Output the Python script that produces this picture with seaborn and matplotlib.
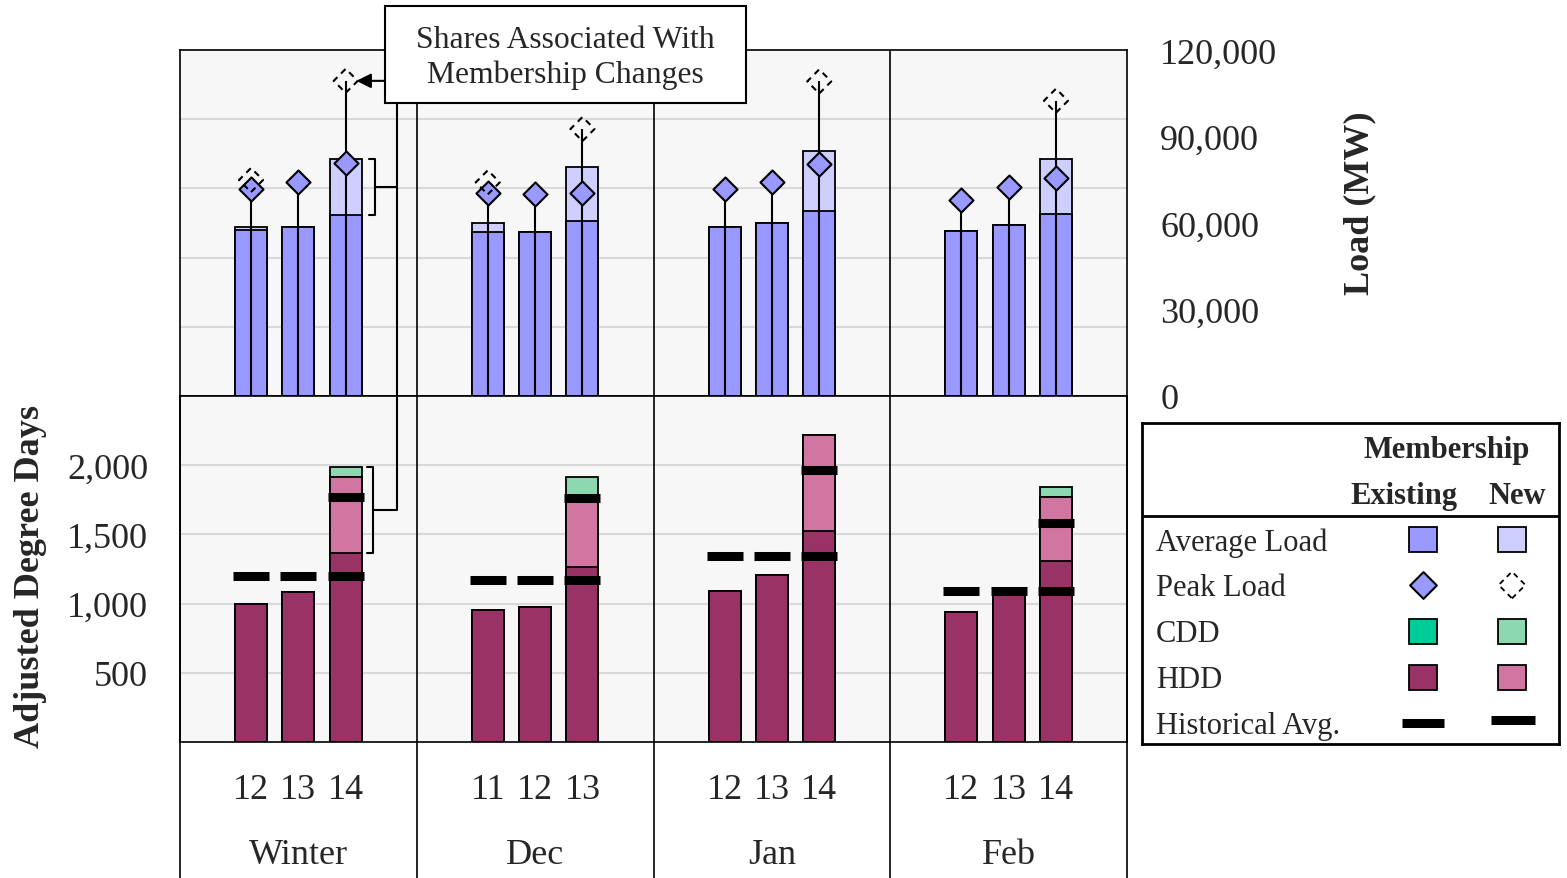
import numpy as np
import pandas as pd
import matplotlib
matplotlib.use("Agg")
import matplotlib.pyplot as plt
import seaborn as sns
from matplotlib.patches import Rectangle
from matplotlib.transforms import blended_transform_factory

nan = np.nan
# ---------------- data ----------------
groups = ["Winter", "Dec", "Jan", "Feb"]
years = [["12", "13", "14"], ["11", "12", "13"], ["12", "13", "14"], ["12", "13", "14"]]

avg_load_existing = [57600, 58700, 62800, 57000, 56800, 60600, 58500, 60000, 64200, 57200, 59400, 63200]
avg_load_new = [1100, 0, 19400, 3100, 0, 18700, 0, 0, 20700, 0, 0, 19100]
peak_existing = [71800, 74300, 80700, 70400, 70000, 70300, 71800, 74300, 80500, 68000, 72400, 75500]
peak_new = [74900, nan, 109300, 74100, nan, 92600, nan, nan, 109100, nan, nan, 102400]

hdd_existing = [995, 1085, 1365, 955, 972, 1261, 1092, 1206, 1523, 936, 1070, 1305]
hdd_new = [0, 0, 550, 0, 0, 489, 0, 0, 693, 0, 0, 466]
cdd_existing = [0, 0, 0, 0, 0, 0, 0, 0, 0, 0, 0, 0]
cdd_new = [0, 0, 75, 0, 0, 165, 0, 0, 0, 0, 0, 75]
hist_existing = [1200, 1200, 1200, 1170, 1170, 1170, 1345, 1345, 1345, 1088, 1088, 1088]
hist_new = [nan, nan, 1770, nan, nan, 1760, nan, nan, 1966, nan, nan, 1583]

load_ticks = [0, 30000, 60000, 90000, 120000]
dd_ticks = [500, 1000, 1500, 2000]

# ---------------- colours ----------------
C_AVG_E, C_AVG_N = "#9999FF", "#CFCFFF"
C_HDD_E, C_HDD_N = "#993366", "#D076A0"
C_CDD_E, C_CDD_N = "#00CC99", "#8CD9B0"
PANEL_BG = "#F7F7F7"
GRID = "#D9D9D9"

sns.set_theme(style="white", rc={"axes.facecolor": PANEL_BG, "axes.edgecolor": "black",
                                 "axes.linewidth": 1.2})
plt.rcParams["font.family"] = ["Liberation Serif", "DejaVu Serif"]

slots = ["s0", "s1", "s2"]
rows = []
for gi, g in enumerate(groups):
    for si in range(3):
        k = gi * 3 + si
        rows.append(dict(group=g, slot=slots[si], year=years[gi][si], xpos=gi + (si - 1) * 0.2,
                         avg_e=avg_load_existing[k], avg_n=avg_load_new[k],
                         pk_e=peak_existing[k], pk_n=peak_new[k],
                         hdd_e=hdd_existing[k], hdd_n=hdd_new[k],
                         cdd_e=cdd_existing[k], cdd_n=cdd_new[k],
                         hist_e=hist_existing[k], hist_n=hist_new[k]))
df = pd.DataFrame(rows)
df["load_tot"] = df.avg_e + df.avg_n
df["dd1"] = df.hdd_e
df["dd2"] = df.dd1 + df.hdd_n
df["dd3"] = df.dd2 + df.cdd_e
df["dd4"] = df.dd3 + df.cdd_n

W, H = 1567, 879
fig = plt.figure(figsize=(W / 100, H / 100), dpi=100)
fig.patch.set_facecolor("white")


def fax(l, t, r, b):
    return [l / W, 1 - b / H, (r - l) / W, (b - t) / H]


ax_top = fig.add_axes(fax(180, 51, 1127, 397))
ax_bot = fig.add_axes(fax(180, 397, 1127, 743))


def bars(ax, col, color):
    sns.barplot(data=df, x="group", y=col, hue="slot", order=groups, hue_order=slots,
                palette={s: color for s in slots}, width=0.6, gap=0.325, dodge=True,
                errorbar=None, legend=False, edgecolor="black", linewidth=1.3,
                saturation=1, ax=ax, zorder=2)


# ---- top panel: load ----
bars(ax_top, "load_tot", C_AVG_N)
bars(ax_top, "avg_e", C_AVG_E)
ax_top.vlines(df.xpos, 0, np.fmax(df.pk_e, df.pk_n), color="black", lw=1.5, zorder=4)
sns.scatterplot(x=df.xpos, y=df.pk_e, marker="D", s=150, color=C_AVG_E, edgecolor="black",
                linewidth=1.5, ax=ax_top, zorder=6, legend=False)
m = df.pk_n.notna()
ax_top.scatter(df.xpos[m], df.pk_n[m], marker="D", s=150, facecolors="none",
               edgecolors="black", linewidths=1.5, linestyles=(0, (3, 2.5)), zorder=6)

for v in range(24000, 120000, 24000):
    ax_top.axhline(v, color=GRID, lw=1.5, zorder=0.5)
ax_top.set_ylim(0, 120000)
ax_top.set_xlim(-0.5, 3.5)
ax_top.set_xticks([])
ax_top.set_xlabel("")
ax_top.yaxis.tick_right()
ax_top.set_yticks(load_ticks)
ax_top.set_yticklabels([f"{v:,}" for v in load_ticks])
ax_top.tick_params(axis="y", length=0, pad=24, labelsize=26)
ax_top.set_ylabel("Load (MW)", fontsize=26, fontweight="bold")
ax_top.yaxis.set_label_position("right")
ax_top.yaxis.set_label_coords(1.246, 0.559)
ax_top.yaxis.label.set_va("center")
ax_top.yaxis.label.set_ha("center")

# ---- bottom panel: degree days ----
bars(ax_bot, "dd4", C_CDD_N)
bars(ax_bot, "dd3", C_CDD_E)
bars(ax_bot, "dd2", C_HDD_N)
bars(ax_bot, "dd1", C_HDD_E)
ax_bot.hlines(df.hist_e, df.xpos - 0.076, df.xpos + 0.076, color="black", lw=6.5,
              capstyle="butt", zorder=5)
mh = df.hist_n.notna()
ax_bot.hlines(df.hist_n[mh], df.xpos[mh] - 0.076, df.xpos[mh] + 0.076, color="black",
              lw=6.5, capstyle="butt", zorder=5)
for v in dd_ticks:
    ax_bot.axhline(v, color=GRID, lw=1.5, zorder=0.5)
ax_bot.set_ylim(0, 2500)
ax_bot.set_xlim(-0.5, 3.5)
ax_bot.set_xticks([])
ax_bot.set_xlabel("")
ax_bot.set_yticks(dd_ticks)
ax_bot.set_yticklabels([f"{v:,}" for v in dd_ticks])
ax_bot.tick_params(axis="y", length=0, pad=23, labelsize=26)
ax_bot.set_ylabel("Adjusted Degree Days", fontsize=26, fontweight="bold")
ax_bot.yaxis.set_label_coords(-0.158, 0.481)
ax_bot.yaxis.label.set_va("center")
ax_bot.yaxis.label.set_ha("center")

for ax in (ax_top, ax_bot):
    for sp in ax.spines.values():
        sp.set_color("black")
        sp.set_linewidth(1.2)

# group dividers and frame extension into label area
ext = -(879 - 743) / 346
for xb in [0.5, 1.5, 2.5]:
    ax_top.axvline(xb, color="black", lw=1.2, zorder=3)
for xb in [-0.5, 0.5, 1.5, 2.5, 3.5]:
    ax_bot.axvline(xb, ymin=ext, ymax=1, color="black", lw=1.2, clip_on=False, zorder=3)

# category labels
tr = blended_transform_factory(ax_bot.transData, ax_bot.transAxes)
for _, r in df.iterrows():
    ax_bot.text(r.xpos, -0.136, r.year, transform=tr, ha="center", va="center", fontsize=26)
for gi, g in enumerate(groups):
    ax_bot.text(gi, -0.324, g, transform=tr, ha="center", va="center", fontsize=26)

# ---- annotation: shares associated with membership changes ----
box = Rectangle((385 / W, 1 - 104 / H), 361 / W, 97 / H, transform=fig.transFigure,
                facecolor="white", edgecolor="black", lw=1.5, zorder=10)
fig.patches.append(box)
fig.text(565.5 / W, 1 - 58 / H, "Shares Associated With\nMembership Changes", ha="center",
         va="center", fontsize=22.8, linespacing=1.27, zorder=11)

k = 2  # Winter '14 bar
xc = df.xpos[k]
box_left_x = ax_top.transData.inverted().transform(fig.transFigure.transform((385 / W, 0)))[0]
ax_top.annotate("", xy=(xc + 0.045, df.pk_n[k]), xytext=(box_left_x, df.pk_n[k]),
                arrowprops=dict(arrowstyle="-|>", color="black", lw=1.5, mutation_scale=22,
                                shrinkA=0, shrinkB=0), zorder=7, annotation_clip=False)
b0, b1, conn = xc + 0.1, xc + 0.125, xc + 0.2166
lo, hi = df.avg_e[k], df.load_tot[k]
ax_top.plot([b0, b1, b1, b0], [lo, lo, hi, hi], color="black", lw=1.5, zorder=7)
midt = (lo + hi) / 2
ax_top.plot([b1, conn], [midt, midt], color="black", lw=1.5, zorder=7)
ax_top.plot([conn, conn], [120000, 0], color="black", lw=1.5, zorder=7, clip_on=False)
lo2, hi2 = df.dd1[k], df.dd4[k]
b0b, b1b = xc + 0.09, xc + 0.115
ax_bot.plot([b0b, b1b, b1b, b0b], [lo2, lo2, hi2, hi2], color="black", lw=1.5, zorder=7)
midb = (lo2 + hi2) / 2
ax_bot.plot([b1b, conn, conn], [midb, midb, 2500], color="black", lw=1.5, zorder=7,
            clip_on=False)

# ---- legend table ----
ax_leg = fig.add_axes(fax(1142, 424, 1559, 745))
ax_leg.set_xlim(0, 417)
ax_leg.set_ylim(321, 0)
ax_leg.set_facecolor("white")
ax_leg.set_xticks([])
ax_leg.set_yticks([])
for sp in ax_leg.spines.values():
    sp.set_linewidth(2)
    sp.set_color("black")
ax_leg.text(305, 27, "Membership", ha="center", va="center", fontsize=22, fontweight="bold")
ax_leg.text(262, 73, "Existing", ha="center", va="center", fontsize=22, fontweight="bold")
ax_leg.text(375, 73, "New", ha="center", va="center", fontsize=22, fontweight="bold")
ax_leg.axhline(92.6, color="black", lw=2)
row_labels = ["Average Load", "Peak Load", "CDD", "HDD", "Historical Avg."]
row_y = [116, 162, 208, 254, 300]
for lbl, y in zip(row_labels, row_y):
    ax_leg.text(14, y + 3, lbl, ha="left", va="center", fontsize=22)
cx_e, cx_n = 281, 370
for y, ce, cn in [(116, C_AVG_E, C_AVG_N), (208, C_CDD_E, C_CDD_N), (254, C_HDD_E, C_HDD_N)]:
    ax_leg.add_patch(Rectangle((cx_e - 14, y - 12.5), 28, 25, facecolor=ce, edgecolor="black", lw=1.3))
    ax_leg.add_patch(Rectangle((cx_n - 14, y - 12.5), 28, 25, facecolor=cn, edgecolor="black", lw=1.3))
ax_leg.scatter([cx_e], [162], marker="D", s=185, color=C_AVG_E, edgecolors="black", linewidths=1.5)
ax_leg.scatter([cx_n], [162], marker="D", s=185, facecolors="none", edgecolors="black",
               linewidths=1.3, linestyles=(0, (3, 2.5)))
ax_leg.hlines([300], [cx_e - 21], [cx_e + 21], color="black", lw=6.5, capstyle="butt")
ax_leg.hlines([297], [cx_n - 21], [cx_n + 23], color="black", lw=6.5, capstyle="butt")

fig.savefig("out.png", dpi=100)
